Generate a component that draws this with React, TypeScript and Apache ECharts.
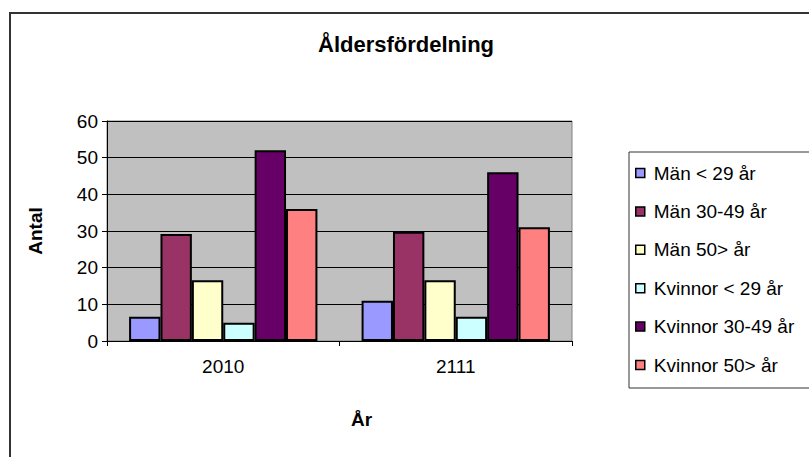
import React, { useEffect, useRef } from "react";
import * as echarts from "echarts";

const categories = ["2010", "2111"];
const seriesNames = [
  "Män < 29 år",
  "Män 30-49 år",
  "Män 50> år",
  "Kvinnor < 29 år",
  "Kvinnor 30-49 år",
  "Kvinnor 50> år",
];
const manUnder29 = [6.6, 11];
const man30to49 = [29.2, 29.8];
const man50plus = [16.6, 16.6];
const kvinnorUnder29 = [5, 6.6];
const kvinnor30to49 = [52, 46];
const kvinnor50plus = [36, 31];
const seriesValues = [manUnder29, man30to49, man50plus, kvinnorUnder29, kvinnor30to49, kvinnor50plus];
const colors = ["#9999FF", "#993366", "#FFFFCC", "#CCFFFF", "#660066", "#FF8080"];

const FONT = "'Liberation Sans', Arial, sans-serif";

export default function App() {
  const ref = useRef<HTMLDivElement>(null);
  useEffect(() => {
    if (!ref.current) return;
    const chart = echarts.init(ref.current, undefined, { renderer: "svg" });
    chart.setOption({
      animation: false,
      backgroundColor: "#ffffff",
      title: {
        text: "Åldersfördelning",
        left: 318,
        top: 33,
        padding: 0,
        textStyle: { fontFamily: FONT, fontSize: 22, fontWeight: "bold", color: "#000" },
      },
      graphic: [
        {
          type: "rect",
          z: -10,
          shape: { x: 10, y: 13, width: 900, height: 600 },
          style: { fill: "#ffffff", stroke: "#333333", lineWidth: 2 },
        },
        {
          type: "rect",
          z: -5,
          shape: { x: 629, y: 152, width: 300, height: 236 },
          style: { fill: "#ffffff", stroke: "#333333", lineWidth: 1 },
        },
      ],
      legend: {
        orient: "vertical",
        left: 635,
        top: 163.5,
        padding: 0,
        itemWidth: 9,
        itemHeight: 9,
        itemGap: 19.4,
        icon: "rect",
        data: seriesNames,
        itemStyle: { borderColor: "#000", borderWidth: 1.5 },
        textStyle: { fontFamily: FONT, fontSize: 19, color: "#000", lineHeight: 19, padding: [0, 0, 0, 4] },
      },
      grid: {
        left: 107,
        top: 121,
        width: 465,
        height: 220,
        show: true,
        backgroundColor: "#C0C0C0",
        borderColor: "#808080",
        borderWidth: 1,
        containLabel: false,
      },
      xAxis: {
        type: "category",
        data: categories,
        name: "År",
        nameLocation: "middle",
        nameGap: 69,
        nameTextStyle: { fontFamily: FONT, fontSize: 19, fontWeight: "bold", color: "#000", padding: [0, 0, 0, 44] },
        axisLine: { show: true, lineStyle: { color: "#000", width: 1 } },
        axisTick: { show: true, length: 5, alignWithLabel: false, lineStyle: { color: "#000" } },
        axisLabel: { fontFamily: FONT, fontSize: 19, color: "#000", margin: 16 },
        splitLine: { show: false },
      },
      yAxis: {
        type: "value",
        min: 0,
        max: 60,
        interval: 10,
        name: "Antal",
        nameLocation: "middle",
        nameGap: 62,
        nameRotate: 90,
        nameTextStyle: { fontFamily: FONT, fontSize: 19, fontWeight: "bold", color: "#000" },
        axisLine: { show: true, lineStyle: { color: "#000", width: 1 } },
        axisTick: { show: true, length: 5, inside: false, lineStyle: { color: "#000" } },
        axisLabel: { fontFamily: FONT, fontSize: 19, color: "#000", margin: 9 },
        splitLine: { show: true, lineStyle: { color: "#000", width: 1 } },
      },
      series: seriesNames.map((name, i) => ({
        name,
        type: "bar",
        data: seriesValues[i],
        barGap: "0%",
        barCategoryGap: "19%",
        itemStyle: { color: colors[i], borderColor: "#000", borderWidth: 2 },
        emphasis: { disabled: true },
      })),
    });
    return () => chart.dispose();
  }, []);
  return (
    <div
      ref={ref}
      style={{ position: "fixed", left: 0, top: 0, width: 809, height: 457 }}
    />
  );
}
